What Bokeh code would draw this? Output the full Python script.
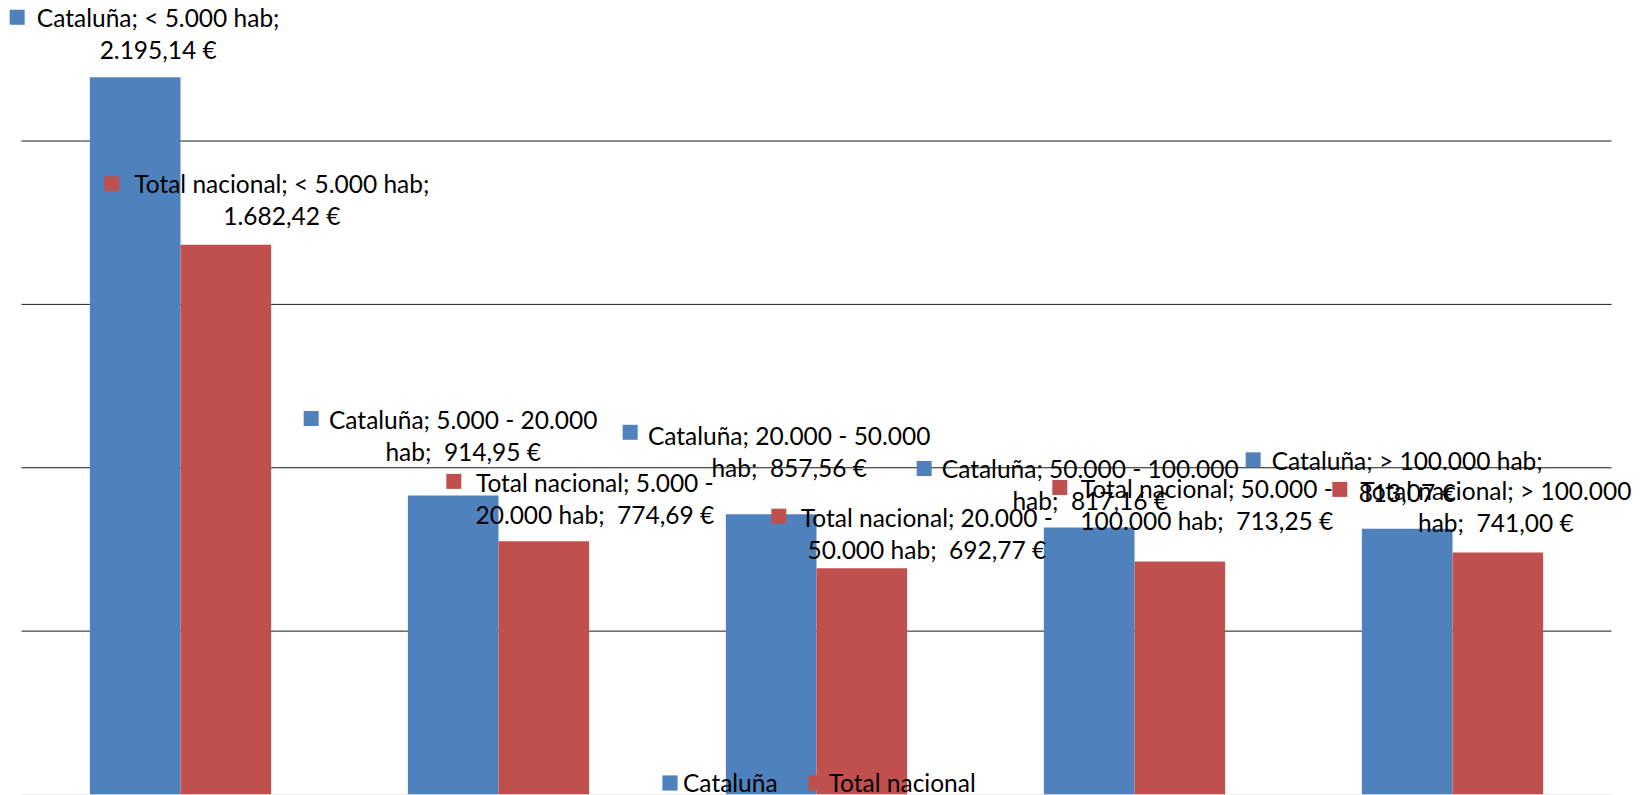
import numpy as np
from bokeh.plotting import figure
from bokeh.models import ColumnDataSource, Range1d, Legend, LegendItem
from bokeh.transform import dodge
from bokeh.core.properties import value
from bokeh.embed import file_html
from bokeh.resources import INLINE

# ---- data -------------------------------------------------------------
categories = ["< 5.000 hab", "5.000 - 20.000 hab", "20.000 - 50.000 hab",
              "50.000 - 100.000 hab", "> 100.000 hab"]
series_names = ["Cataluña", "Total nacional"]
cataluna = [2195.14, 914.95, 857.56, 817.16, 813.07]
total_nacional = [1682.42, 774.69, 692.77, 713.25, 741.00]
grid_values = [500, 1000, 1500, 2000]

# ---- layout / style ---------------------------------------------------
W, H = 1642, 795
LEFT_PX, RIGHT_PX, BOTTOM_PX = 21, 31, 1
CAT_PX = (W - LEFT_PX - RIGHT_PX) / len(categories)
Y_TOP = 2430
PX_PER_UNIT = (H - BOTTOM_PX) / Y_TOP
BAR_W = 0.285
FONT = "Lato"
FONT_SIZE = "24.5px"
LINE_GAP = 32
COLORS = ["#4F81BD", "#C0504D"]

# data-label placement in pixels, relative to the top centre of each bar
# (first the five Cataluña labels, then the five Total nacional labels)
label_dx = [23, 10, 18, 1, 0, 56, 51, 65, 27, -2]
label_dy = [-60, -76, -79, -59, -68, -61, -59, -51, -73, -62]
key_dx = [-118, -142, -141, -165, -154, -114, -90, -83, -120, -158]
key_dy = [-60, -77, -82, -59, -69, -61, -60, -52, -74, -63]
wrap_words = [4, 4, 4, 4, 4, 5, 4, 4, 4, 4]


def euro(v):
    s = f"{v:,.2f}".replace(",", "X").replace(".", ",").replace("X", ".")
    return f"{s} €"


# ---- figure -----------------------------------------------------------
p = figure(width=W, height=H, output_backend="svg", toolbar_location=None,
           x_range=Range1d(-LEFT_PX / CAT_PX, (W - LEFT_PX) / CAT_PX),
           y_range=Range1d(0, Y_TOP),
           min_border_left=0, min_border_right=0, min_border_top=0,
           min_border_bottom=BOTTOM_PX)
p.xaxis.visible = False
p.yaxis.visible = False
p.xgrid.visible = False
p.ygrid.visible = False
p.outline_line_color = None
p.background_fill_color = "white"
p.border_fill_color = "white"

# horizontal gridlines across the plot area and the light baseline
ncat = len(categories)
p.segment(x0=[0] * len(grid_values), x1=[ncat] * len(grid_values),
          y0=grid_values, y1=grid_values, line_color="#1a1a1a", line_width=1)
p.segment(x0=[0], x1=[ncat], y0=[0], y1=[0], line_color="#d9d9d9", line_width=1)

pos = np.arange(ncat) + 0.5
src = ColumnDataSource(dict(pos=pos, cat=categories,
                            cataluna=cataluna, total=total_nacional))
r_cat = p.vbar(x=dodge("pos", -BAR_W / 2, range=p.x_range), top="cataluna",
               width=BAR_W, bottom=0, source=src,
               fill_color=COLORS[0], line_color=None)
r_tot = p.vbar(x=dodge("pos", BAR_W / 2, range=p.x_range), top="total",
               width=BAR_W, bottom=0, source=src,
               fill_color=COLORS[1], line_color=None)

# ---- data labels: legend key + "serie; categoría; valor" ------------
lx, ly, line1, line2, kx, ky, kc = [], [], [], [], [], [], []
k = 0
for s, (name, vals) in enumerate(zip(series_names, [cataluna, total_nacional])):
    shift = -BAR_W / 2 if s == 0 else BAR_W / 2
    for i, (cat, v) in enumerate(zip(categories, vals)):
        # separator before the value is a double space (kept with a nbsp)
        words = f"{name}; {cat};\u00a0 {euro(v)}".split(" ")
        n = wrap_words[k]
        line1.append(" ".join(words[:n]).strip())
        line2.append(" ".join(words[n:]).strip())
        bx = pos[i] + shift
        lx.append(bx)
        ly.append(v)
        kx.append(bx + key_dx[k] / CAT_PX)
        ky.append(v - key_dy[k] / PX_PER_UNIT)
        kc.append(COLORS[s])
        k += 1

lab = ColumnDataSource(dict(x=lx, y=ly, line1=line1, line2=line2,
                            dx=label_dx, dy1=label_dy,
                            dy2=[d + LINE_GAP for d in label_dy]))
for txt, dy in (("line1", "dy1"), ("line2", "dy2")):
    p.text(x="x", y="y", text=txt, x_offset="dx", y_offset=dy, source=lab,
           text_font=value(FONT), text_font_size=FONT_SIZE,
           text_color="black", text_align="center", text_baseline="middle")

p.scatter(x=kx, y=ky, marker="square", size=15, fill_color=kc, line_color=None)

# ---- legend -----------------------------------------------------------
legend = Legend(items=[LegendItem(label=series_names[0], renderers=[r_cat]),
                       LegendItem(label=series_names[1], renderers=[r_tot])],
                orientation="horizontal", location=(660, -3),
                glyph_width=19, glyph_height=19, label_height=19,
                label_standoff=4, spacing=28, padding=0, margin=0,
                border_line_color=None, background_fill_alpha=0,
                label_text_font=FONT, label_text_font_size=FONT_SIZE,
                label_text_color="black")
p.add_layout(legend)

open("out.html", "w").write(file_html(p, INLINE))
